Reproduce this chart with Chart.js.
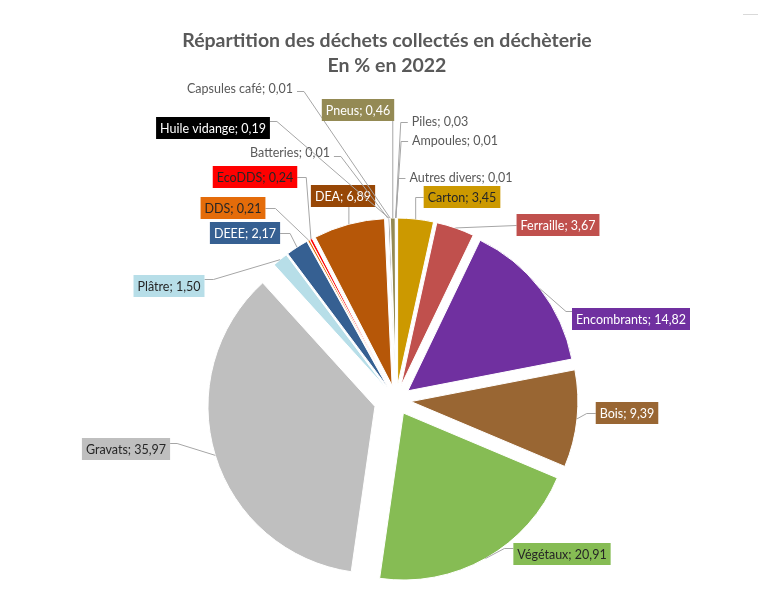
<!DOCTYPE html>
<html>
<head>
<meta charset="utf-8">
<script src="https://cdn.jsdelivr.net/npm/chart.js@4.4.0/dist/chart.umd.min.js"></script>
<style>
body { margin: 0; background: #fff; }
</style>
</head>
<body>
<canvas id="myChart" width="758" height="601"></canvas>
<script>
// data, clockwise from 12 o'clock
var categories = ["Carton", "Ferraille", "Encombrants", "Bois", "Végétaux", "Gravats", "Plâtre", "DEEE", "DDS", "EcoDDS", "DEA", "Batteries", "Huile vidange", "Capsules café", "Pneus", "Piles", "Ampoules", "Autres divers"];
var values = [3.45, 3.67, 14.82, 9.39, 20.91, 35.97, 1.50, 2.17, 0.21, 0.24, 6.89, 0.01, 0.19, 0.01, 0.46, 0.03, 0.01, 0.01];
var titleLines = ["Répartition des déchets collectés en déchèterie", "En % en 2022"];

var sliceColors = ['#CC9900', '#C0504D', '#7030A0', '#996633', '#86BC54', '#BFBFBF', '#B7DEE8', '#366092', '#E46C0A', '#FF0000', '#B65708', '#FF99CC', '#A6A6A6', '#7F7F7F', '#948A54', '#FFC000', '#FFFF00', '#4F81BD'];
var labelFill = ['#CC9900', '#C0504D', '#7030A0', '#996633', '#86BC54', '#BFBFBF', '#B7DEE8', '#366092', '#E46C0A', '#FF0000', '#974706', null, '#000000', null, '#948A54', null, null, null];
var labelInk = ['#262626', '#fff', '#fff', '#fff', '#262626', '#262626', '#262626', '#fff', '#262626', '#262626', '#fff', '#595959', '#fff', '#595959', '#fff', '#595959', '#595959', '#595959'];
// how far each slice is pulled out (px)
var explode = [15, 15, 15, 15, 15, 22, 15, 15, 15, 15, 15, 15, 15, 15, 15, 15, 15, 15];
// label placement: text centre x, y, side the leader leaves from, leader dy, stub length
var labelLayout = [
  [462, 197, 'l', 0, 8], [558, 225, 'l', 0, 0], [631, 319, 'l', -8, 6], [627, 413, 'l', 0, 9],
  [562, 554, 'l', -6, 9], [126, 449, 'r', -6, 7], [169, 286, 'r', -7, 9], [245, 233, 'r', 0, 10],
  [233, 208, 'r', 0, 10], [255, 177, 'r', 0, 9], [343, 196, 'b', 0, 0], [290, 152, 'r', 4, 7],
  [213, 128, 'r', -7, 7], [240, 88, 'r', 3, 7], [358, 110, 'b', 0, 0], [440, 121, 'l', 1, 7],
  [455, 140, 'l', 1, 7], [461, 177, 'l', 1, 7]
];

function fmt(v) {
  return v.toFixed(2).replace('.', ',');
}

var explodePlugin = {
  id: 'explode',
  beforeDatasetDraw: function(chart, args) {
    var ctx = chart.ctx;
    args.meta.data.forEach(function(arc, i) {
      var mid = (arc.startAngle + arc.endAngle) / 2;
      ctx.save();
      ctx.translate(Math.cos(mid) * explode[i], Math.sin(mid) * explode[i]);
      arc.draw(ctx);
      ctx.restore();
    });
    return false;
  }
};

var labelPlugin = {
  id: 'pieLabels',
  afterDatasetsDraw: function(chart) {
    var ctx = chart.ctx;
    var arcs = chart.getDatasetMeta(0).data;
    ctx.save();
    // frame bit top right
    ctx.strokeStyle = '#D9D9D9';
    ctx.beginPath();
    ctx.moveTo(743, 14.5);
    ctx.lineTo(758, 14.5);
    ctx.stroke();
    // title
    ctx.font = 'bold 19.5px Lato';
    ctx.fillStyle = '#595959';
    ctx.textAlign = 'center';
    ctx.textBaseline = 'middle';
    ctx.fillText(titleLines[0], 387, 41);
    ctx.fillText(titleLines[1], 387, 66);

    ctx.font = '12.5px Lato';
    for (var i = 0; i < arcs.length; i++) {
      var arc = arcs[i];
      var mid = (arc.startAngle + arc.endAngle) / 2;
      var r = arc.outerRadius + explode[i];
      var ax = arc.x + Math.cos(mid) * r;
      var ay = arc.y + Math.sin(mid) * r;
      var L = labelLayout[i];
      var txt = categories[i] + '; ' + fmt(values[i]);
      var w = ctx.measureText(txt).width + 8;
      var h = 22;
      var left = L[0] - w / 2, top = L[1] - h / 2;

      // leader line
      ctx.strokeStyle = '#A6A6A6';
      ctx.lineWidth = 1;
      ctx.beginPath();
      if (L[2] == 'b') {
        ctx.moveTo(ax, top + h);
        ctx.lineTo(ax, ay);
      } else {
        var sx = L[2] == 'l' ? left : left + w;
        var ex = L[2] == 'l' ? sx - L[4] : sx + L[4];
        ctx.moveTo(sx, L[1] + L[3] + 0.5);
        ctx.lineTo(ex, L[1] + L[3] + 0.5);
        ctx.lineTo(ax, ay);
      }
      ctx.stroke();

      if (labelFill[i]) {
        ctx.fillStyle = labelFill[i];
        ctx.fillRect(left, top, w, h);
      }
      ctx.fillStyle = labelInk[i];
      ctx.fillText(txt, L[0], L[1] + 1);
    }
    ctx.restore();
  }
};

var ctx = document.getElementById("myChart");
var myPieChart = new Chart(ctx, {
  type: 'pie',
  data: {
    labels: categories,
    datasets: [{
      data: values,
      backgroundColor: sliceColors,
      borderColor: '#fff',
      borderWidth: 1,
      hoverOffset: 0
    }]
  },
  options: {
    responsive: false,
    animation: false,
    devicePixelRatio: 1,
    radius: 167,
    layout: { padding: { left: 34, right: 0, top: 199, bottom: 0 } },
    plugins: {
      legend: { display: false },
      tooltip: { enabled: false },
      title: { display: false }
    }
  },
  plugins: [explodePlugin, labelPlugin]
});
</script>
</body>
</html>
